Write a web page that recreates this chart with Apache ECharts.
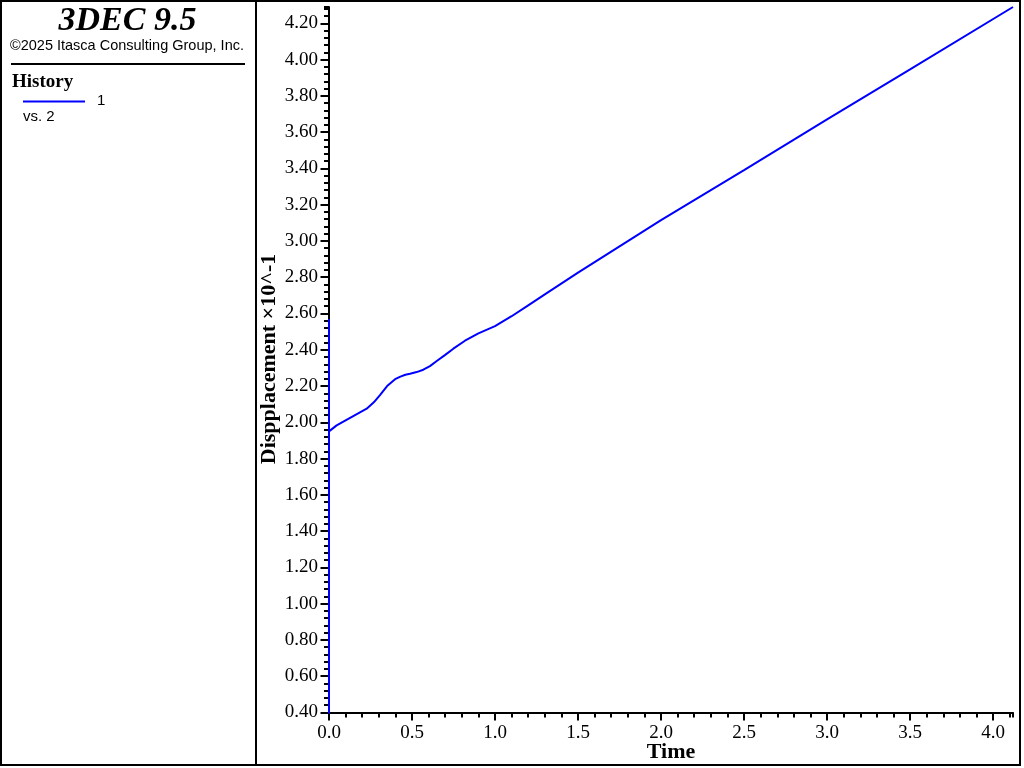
<!DOCTYPE html>
<html>
<head>
<meta charset="utf-8">
<script src="https://cdn.jsdelivr.net/npm/echarts@6/dist/echarts.min.js"></script>
<style>
html,body{margin:0;padding:0;background:#fff;}
#chart{width:1024px;height:768px;}
</style>
</head>
<body>
<div id="chart"></div>
<script>
// ---- data ----
var timeValues = [0, 0, 0, 0.046, 0.127, 0.227, 0.27, 0.307, 0.35, 0.398, 0.43, 0.46, 0.488, 0.528, 0.568, 0.608, 0.649, 0.7, 0.749, 0.819, 0.9, 1.0, 1.1, 1.2, 1.3, 1.5, 2.0, 2.5, 3.0, 3.5, 4.12];
var dispValues = [0.0, 2.57, 1.95, 1.983, 2.025, 2.075, 2.11, 2.15, 2.20, 2.238, 2.252, 2.262, 2.268, 2.277, 2.29, 2.31, 2.338, 2.372, 2.406, 2.45, 2.49, 2.53, 2.585, 2.645, 2.705, 2.825, 3.115, 3.39, 3.67, 3.946, 4.29];
var xTicks = [0, 0.5, 1.0, 1.5, 2.0, 2.5, 3.0, 3.5, 4.0];
var yTicks = [0.4, 0.6, 0.8, 1.0, 1.2, 1.4, 1.6, 1.8, 2.0, 2.2, 2.4, 2.6, 2.8, 3.0, 3.2, 3.4, 3.6, 3.8, 4.0, 4.2];
var titleText = '3DEC 9.5';
var copyrightText = '\u00a92025 Itasca Consulting Group, Inc.';
var legendTitle = 'History';
var seriesName = '1';
var vsText = 'vs. 2';
var xName = 'Time';
var yName = 'Dispplacement \u00d710^-1';

var seriesData = timeValues.map(function (t, i) { return [t, dispValues[i]]; });

var SERIF = '"Liberation Serif", "Times New Roman", serif';
var SANS = '"Liberation Sans", Arial, sans-serif';

var chart = echarts.init(document.getElementById('chart'), null, {renderer: 'canvas'});
var GL = 329, GT = 7, GR = 1024 - 1013, GB = 768 - 712.5;

var option = {
  backgroundColor: '#fff',
  animation: false,
  grid: {left: GL, top: GT, right: GR, bottom: GB, containLabel: false},
  xAxis: [
    {
      type: 'value', min: 0, max: 4.12,
      axisLine: {show: true, onZero: false, lineStyle: {color: '#000', width: 2}},
      axisTick: {show: true, length: 8, customValues: xTicks, lineStyle: {color: '#000', width: 2}},
      axisLabel: {show: true, customValues: xTicks, margin: 11, color: '#000', fontFamily: SERIF, fontSize: 19,
        formatter: function (v) { return v.toFixed(1); }},
      splitLine: {show: false}
    },
    {
      type: 'value', min: 0, max: 4.12, interval: 0.1, position: 'bottom',
      axisLine: {show: false},
      axisTick: {show: true, length: 5, lineStyle: {color: '#000', width: 2}},
      axisLabel: {show: false},
      splitLine: {show: false}
    }
  ],
  yAxis: [
    {
      type: 'value', min: 0.4, max: 4.29,
      axisLine: {show: true, onZero: false, lineStyle: {color: '#000', width: 2}},
      axisTick: {show: true, length: 8.5, customValues: yTicks, lineStyle: {color: '#000', width: 2}},
      axisLabel: {show: true, customValues: yTicks, margin: 11, color: '#000', fontFamily: SERIF, fontSize: 19,
        formatter: function (v) { return v.toFixed(2); }},
      splitLine: {show: false}
    },
    {
      type: 'value', min: 0.4, max: 4.29, interval: 0.04, position: 'left',
      axisLine: {show: false},
      axisTick: {show: true, length: 5, lineStyle: {color: '#000', width: 2}},
      axisLabel: {show: false},
      splitLine: {show: false}
    }
  ],
  series: [
    {
      name: seriesName,
      type: 'line',
      xAxisIndex: 0, yAxisIndex: 0,
      data: seriesData,
      showSymbol: false,
      symbol: 'none',
      clip: true,
      lineStyle: {color: '#0000ff', width: 2},
      z: 5
    }
  ],
  graphic: [
    {type: 'rect', shape: {x: 1, y: 1, width: 1019, height: 764}, style: {fill: null, stroke: '#000', lineWidth: 2}, z: 100},
    {type: 'line', shape: {x1: 256, y1: 0, x2: 256, y2: 766}, style: {stroke: '#000', lineWidth: 2}, z: 100},
    {type: 'text', x: 127.5, y: 21, style: {text: titleText, font: 'italic bold 34px ' + SERIF, fill: '#000', align: 'center', verticalAlign: 'middle'}},
    {type: 'text', x: 127, y: 46, style: {text: copyrightText, font: '14.5px ' + SANS, fill: '#000', align: 'center', verticalAlign: 'middle'}},
    {type: 'line', shape: {x1: 11, y1: 64, x2: 245, y2: 64}, style: {stroke: '#000', lineWidth: 2}},
    {type: 'text', x: 12, y: 82, style: {text: legendTitle, font: 'bold 19px ' + SERIF, fill: '#000', align: 'left', verticalAlign: 'middle'}},
    {type: 'line', shape: {x1: 23, y1: 101.5, x2: 85, y2: 101.5}, style: {stroke: '#0000ff', lineWidth: 2}},
    {type: 'text', x: 97, y: 100.5, style: {text: seriesName, font: '15px ' + SANS, fill: '#000', align: 'left', verticalAlign: 'middle'}},
    {type: 'text', x: 23, y: 117, style: {text: vsText, font: '15px ' + SANS, fill: '#000', align: 'left', verticalAlign: 'middle'}},
    {type: 'text', x: 671, y: 752, style: {text: xName, font: 'bold 22px ' + SERIF, fill: '#000', align: 'center', verticalAlign: 'middle'}},
    {type: 'text', x: 269, y: 359, rotation: Math.PI / 2, style: {text: yName, font: 'bold 22px ' + SERIF, fill: '#000', align: 'center', verticalAlign: 'middle'}}
  ]
};
chart.setOption(option);
</script>
</body>
</html>
